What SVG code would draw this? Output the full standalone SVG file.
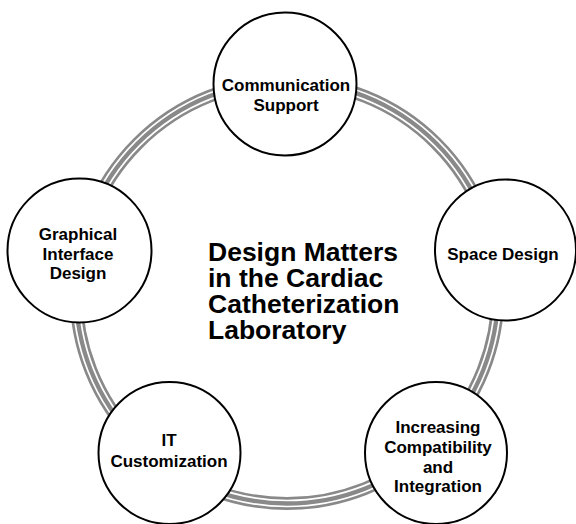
<svg xmlns="http://www.w3.org/2000/svg" width="576" height="524" viewBox="0 0 576 524">
<style>
.ring{fill:none;stroke:#898989;stroke-width:13}
.gap{fill:none;stroke:#ffffff;stroke-width:1.7}
.node{fill:#ffffff;stroke:#000000;stroke-width:2}
.lbl{font-family:"Liberation Sans",Arial,sans-serif;font-weight:bold;font-size:17px;fill:#000000;text-anchor:middle}
.title{font-family:"Liberation Sans",Arial,sans-serif;font-weight:bold;font-size:26.5px;fill:#000000}
</style>
<rect width="576" height="524" fill="#ffffff"/>
<g id="connectors">
<circle class="ring" cx="287" cy="292.5" r="211"/>
<circle class="gap" cx="287" cy="292.5" r="208"/>
<circle class="gap" cx="287" cy="292.5" r="214"/>
</g>
<g id="center-title">
<text class="title" x="208" y="261">Design Matters</text>
<text class="title" x="208" y="287">in the Cardiac</text>
<text class="title" x="208" y="313">Catheterization</text>
<text class="title" x="208" y="339">Laboratory</text>
</g>
<g id="node-communication">
<circle class="node" cx="285" cy="84" r="71.5"/>
<text class="lbl" x="286" y="90.5">Communication</text>
<text class="lbl" x="286" y="111">Support</text>
</g>
<g id="node-space">
<circle class="node" cx="505.5" cy="250" r="70.5"/>
<text class="lbl" x="503" y="260">Space Design</text>
</g>
<g id="node-compatibility">
<circle class="node" cx="436" cy="453" r="71"/>
<text class="lbl" x="438" y="432.7">Increasing</text>
<text class="lbl" x="438" y="452.7">Compatibility</text>
<text class="lbl" x="438" y="472.7">and</text>
<text class="lbl" x="438" y="492">Integration</text>
</g>
<g id="node-it">
<circle class="node" cx="169.5" cy="453" r="71"/>
<text class="lbl" x="169" y="446">IT</text>
<text class="lbl" x="169" y="467">Customization</text>
</g>
<g id="node-graphical">
<circle class="node" cx="79.5" cy="250.5" r="72"/>
<text class="lbl" x="78" y="240">Graphical</text>
<text class="lbl" x="78" y="259.5">Interface</text>
<text class="lbl" x="78" y="279">Design</text>
</g>
</svg>
